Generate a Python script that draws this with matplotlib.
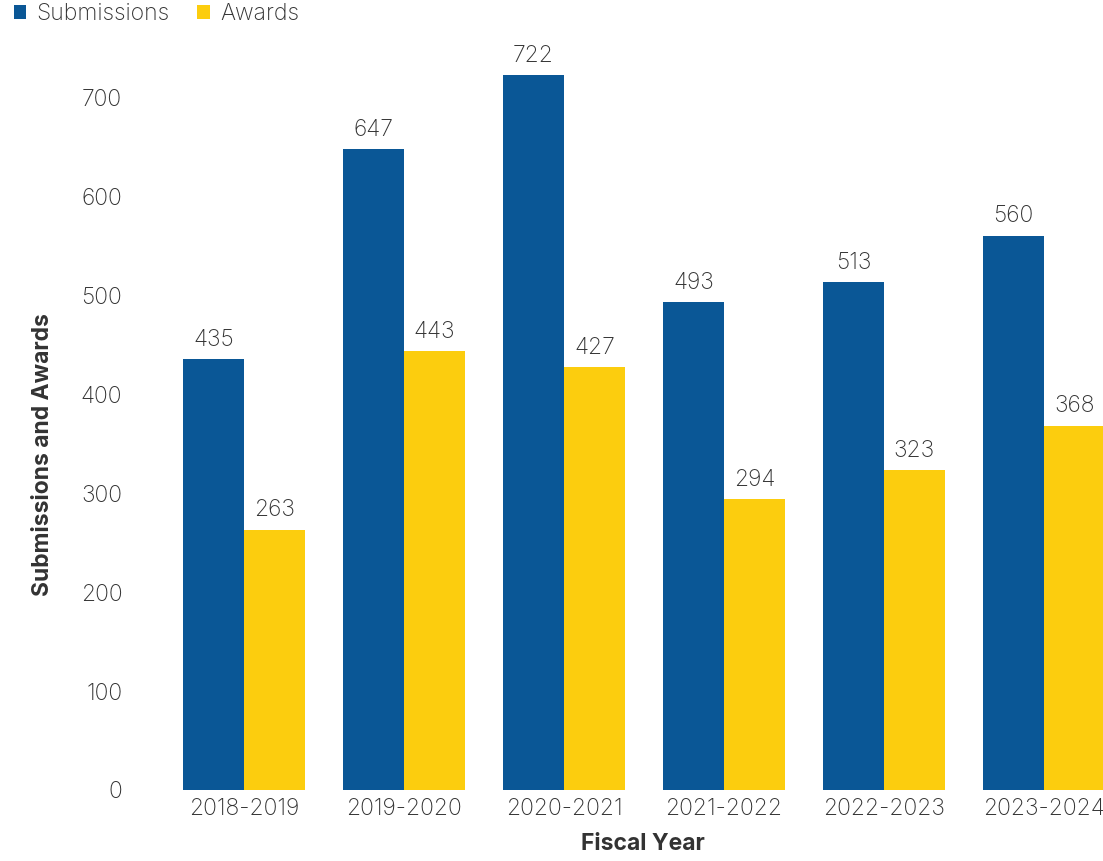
import numpy as np
import matplotlib
matplotlib.use('Agg')
import matplotlib.pyplot as plt

# Datos
anios = ['2018-2019', '2019-2020', '2020-2021', '2021-2022', '2022-2023', '2023-2024']
submissions = [435, 647, 722, 493, 513, 560]
awards = [263, 443, 427, 294, 323, 368]

AZUL = '#0a5796'
AMARILLO = '#fccd0e'
TEXTO = '#333333'
TAM = 16.5

plt.rcParams['font.family'] = ['Inter', 'DejaVu Sans']

fig = plt.figure(figsize=(11.03, 8.61), dpi=100)
ax = fig.add_axes([150 / 1103, 71 / 861, 953 / 1103, 750 / 861])

x = np.arange(len(anios))
ancho = 0.38
b1 = ax.bar(x - ancho / 2, submissions, ancho, color=AZUL, label='Submissions')
b2 = ax.bar(x + ancho / 2, awards, ancho, color=AMARILLO, label='Awards')

for barras in (b1, b2):
    ax.bar_label(barras, padding=6, fontsize=TAM, color=TEXTO, fontweight='light')

ax.set_xlim(-0.5875, 5.369)
ax.set_ylim(0, 757.6)
ax.set_yticks(range(0, 701, 100))
ax.set_xticks(x)
ax.set_xticklabels(anios, fontweight='light')
ax.set_yticklabels([str(v) for v in range(0, 701, 100)], fontweight='light')
ax.tick_params(axis='both', length=0, labelsize=TAM, labelcolor=TEXTO)
ax.tick_params(axis='y', pad=20)
ax.tick_params(axis='x', pad=6)
for s in ax.spines.values():
    s.set_visible(False)

ax.set_xlabel('Fiscal Year', fontsize=TAM, fontweight='bold', color=TEXTO)
ax.xaxis.set_label_coords((643 - 150) / 953, -(833 - 790) / 750)
ax.set_ylabel('Submissions and Awards', fontsize=TAM, fontweight='bold', color=TEXTO)
ax.yaxis.set_label_coords(-(96 / 953), (790 - 455) / 750)

leg = fig.legend(handles=[b1, b2], loc='upper left', bbox_to_anchor=(0.0, 1.012),
                 ncol=2, frameon=False, fontsize=TAM, handlelength=0.55, handleheight=0.55,
                 handletextpad=0.45, columnspacing=1.2, labelcolor=TEXTO, borderaxespad=0.2)
for t in leg.get_texts():
    t.set_fontweight('light')

fig.savefig('out.png', dpi=100)
